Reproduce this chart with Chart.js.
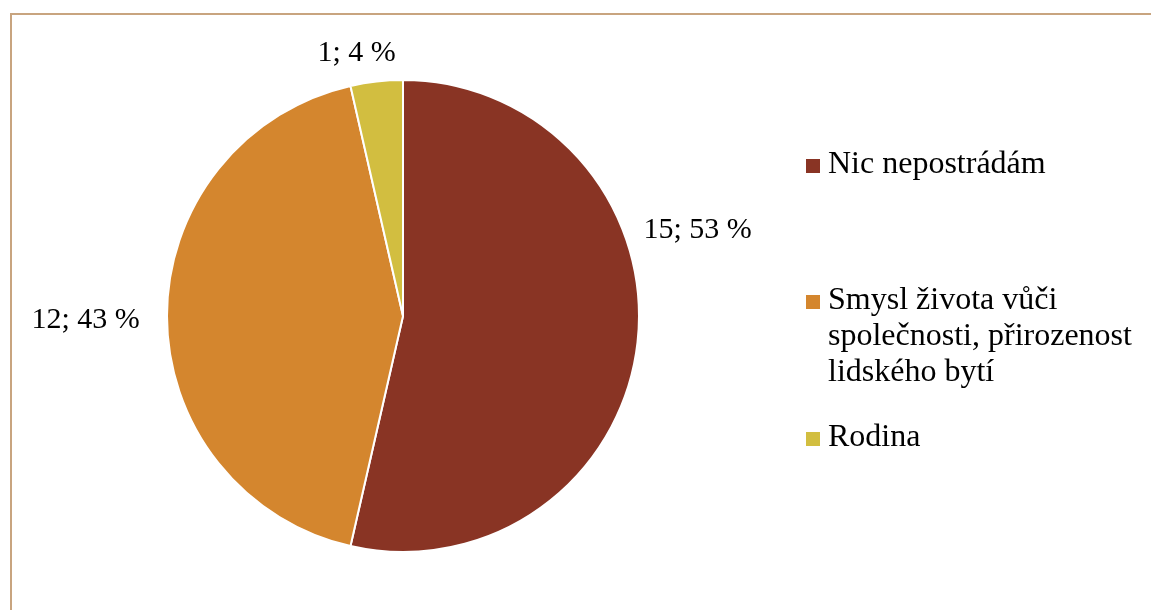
<!DOCTYPE html>
<html lang="cs">
<head>
<meta charset="utf-8">
<script src="https://cdn.jsdelivr.net/npm/chart.js@4/dist/chart.umd.min.js"></script>
<style>
  html, body { margin: 0; padding: 0; background: #fff; }
  #wrap { position: relative; width: 1151px; height: 610px; overflow: hidden; }
  #frame {
    position: absolute; left: 10px; top: 13px; right: -10px; bottom: -10px;
    border-top: 2px solid #c8a47f; border-left: 2px solid #c8a47f;
  }
  #pie { position: absolute; left: 0; top: 0; }
  #legend {
    position: absolute; left: 806px; top: 144px;
    font-family: 'Liberation Serif', 'Times New Roman', serif;
    font-size: 32px; line-height: 36px; color: #000;
  }
  .legend-item { position: absolute; left: 0; white-space: nowrap; }
  .legend-box { position: absolute; left: 0; width: 14px; height: 14px; top: 15px; }
  .legend-text { margin-left: 22px; }
</style>
</head>
<body>
<div id="wrap">
  <div id="frame"></div>
  <canvas id="pie" width="1151" height="610"></canvas>
  <div id="legend"></div>
</div>
<script>
// Data
const categories = ['Nic nepostrádám', 'Smysl života vůči společnosti, přirozenost lidského bytí', 'Rodina'];
const counts = [15, 12, 1];
const percents = [53, 43, 4];
const colors = ['#893424', '#d4862e', '#d2be40'];

// Legend lines (wrapped) and their vertical offsets
const legendLines = [['Nic nepostrádám'], ['Smysl života vůči', 'společnosti, přirozenost', 'lidského bytí'], ['Rodina']];
const legendTops = [0, 136, 273];

// Where each value label sits: angle (deg, from 3 o'clock) and distance as a multiple of the radius
const labelAngle = [-14.9, 177.8, -100.3];
const labelDist = [1.292, 1.346, 1.098];

const labelPlugin = {
  id: 'sliceLabels',
  afterDatasetsDraw(chart) {
    const ctx = chart.ctx;
    const arcs = chart.getDatasetMeta(0).data;
    ctx.save();
    ctx.font = '30px "Liberation Serif", "Times New Roman", serif';
    ctx.fillStyle = '#000';
    ctx.textAlign = 'center';
    ctx.textBaseline = 'alphabetic';
    arcs.forEach((arc, i) => {
      const a = labelAngle[i] * Math.PI / 180;
      const r = arc.outerRadius * labelDist[i];
      const x = arc.x + Math.cos(a) * r;
      const y = arc.y + Math.sin(a) * r;
      ctx.fillText(`${counts[i]}; ${percents[i]} %`, x, y);
    });
    ctx.restore();
  }
};

new Chart(document.getElementById('pie').getContext('2d'), {
  type: 'pie',
  data: {
    labels: categories,
    datasets: [{
      data: counts,
      backgroundColor: colors,
      borderColor: '#ffffff',
      borderWidth: 2
    }]
  },
  options: {
    responsive: false,
    animation: false,
    layout: { padding: { left: 166, right: 511, top: 79, bottom: 57 } },
    plugins: {
      legend: { display: false },
      tooltip: { enabled: false }
    }
  },
  plugins: [labelPlugin]
});

// HTML legend
const legend = document.getElementById('legend');
legend.innerHTML = categories.map((c, i) => `
  <div class="legend-item" style="top:${legendTops[i]}px">
    <div class="legend-box" style="background:${colors[i]}"></div>
    <div class="legend-text">${legendLines[i].join('<br>')}</div>
  </div>
`).join('');
</script>
</body>
</html>
